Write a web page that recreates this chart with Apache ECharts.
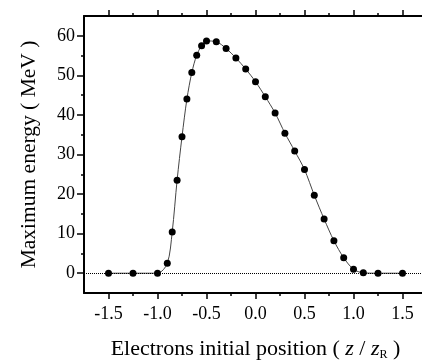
<!DOCTYPE html>
<html>
<head>
<meta charset="utf-8">
<script src="https://cdn.jsdelivr.net/npm/echarts@6/dist/echarts.min.js"></script>
<style>
  html, body { margin: 0; padding: 0; background: #fff; }
  #chart { width: 422px; height: 360px; }
</style>
</head>
<body>
<div id="chart"></div>
<script>
// electron initial position (z / zR) and max energy (MeV)
const positions = [-1.5, -1.25, -1.0, -0.9, -0.85, -0.8, -0.75, -0.7, -0.65, -0.6, -0.55, -0.5,
  -0.4, -0.3, -0.2, -0.1, 0.0, 0.1, 0.2, 0.3, 0.4, 0.5, 0.6, 0.7, 0.8, 0.9, 1.0, 1.1, 1.25, 1.5];
const energies = [0, 0, 0, 2.5, 10.4, 23.5, 34.5, 44.0, 50.7, 55.1, 57.5, 58.7,
  58.5, 56.8, 54.4, 51.6, 48.4, 44.6, 40.5, 35.4, 30.9, 26.2, 19.7, 13.7, 8.2, 3.9, 1.0, 0.1, 0, 0];

const xMajorTicks = [-1.5, -1.0, -0.5, 0.0, 0.5, 1.0, 1.5];
const xMinorTicks = [-1.25, -0.75, -0.25, 0.25, 0.75, 1.25];
const yMajorTicks = [0, 10, 20, 30, 40, 50, 60];
const yMinorTicks = [5, 15, 25, 35, 45, 55];

const font = 'Liberation Serif';
const chart = echarts.init(document.getElementById('chart'));

// one axis per tick size, stacked on top of each other
function xAxisOf(position, ticks, len, withLine, withLabel) {
  return {
    type: 'value', position: position, min: -1.75, max: 1.75,
    axisLine: { show: withLine, onZero: false, lineStyle: { color: '#000', width: 2 } },
    axisTick: { show: true, inside: false, length: len, customValues: ticks,
      lineStyle: { color: '#000', width: 1.5 } },
    axisLabel: withLabel ? {
      show: true, customValues: ticks, margin: 12,
      fontFamily: font, fontSize: 18, color: '#000',
      formatter: v => v.toFixed(1)
    } : { show: false },
    splitLine: { show: false }
  };
}
function yAxisOf(ticks, len, withLine, withLabel) {
  return {
    type: 'value', position: 'left', min: -5, max: 65,
    axisLine: { show: withLine, onZero: false, lineStyle: { color: '#000', width: 2 } },
    axisTick: { show: true, inside: false, length: len, customValues: ticks,
      lineStyle: { color: '#000', width: 1.5 } },
    axisLabel: withLabel ? {
      show: true, customValues: ticks, margin: 9,
      fontFamily: font, fontSize: 18, color: '#000'
    } : { show: false },
    splitLine: { show: false }
  };
}

const xMain = xAxisOf('bottom', xMajorTicks, 6, true, true);
xMain.name = 'Electrons initial position ( {i|z} / {i|z}{sub|R} )';
xMain.nameLocation = 'middle';
xMain.nameGap = 44;
xMain.nameTextStyle = {
  fontFamily: font, fontSize: 22, color: '#000',
  rich: {
    i: { fontFamily: font, fontSize: 22, fontStyle: 'italic', color: '#000' },
    sub: { fontFamily: font, fontSize: 12, color: '#000', padding: [12, 0, 0, 0] }
  }
};

const yMain = yAxisOf(yMajorTicks, 7, true, true);
yMain.name = 'Maximum energy ( MeV )';
yMain.nameLocation = 'middle';
yMain.nameGap = 44;
yMain.nameTextStyle = { fontFamily: font, fontSize: 21.5, color: '#000' };

chart.setOption({
  animation: false,
  grid: { left: 84, right: -5, top: 16, bottom: 67, containLabel: false, outerBoundsMode: 'none' },
  xAxis: [
    xMain,
    xAxisOf('bottom', xMinorTicks, 3, false, false),
    xAxisOf('top', xMajorTicks, 6, true, false),
    xAxisOf('top', xMinorTicks, 3, false, false)
  ],
  yAxis: [
    yMain,
    yAxisOf(yMinorTicks, 3, false, false)
  ],
  series: [{
    type: 'line',
    xAxisIndex: 0,
    yAxisIndex: 0,
    data: positions.map((x, i) => [x, energies[i]]),
    smooth: 0.3,
    symbol: 'circle',
    symbolSize: 7,
    itemStyle: { color: '#000' },
    lineStyle: { color: '#444', width: 1 },
    z: 3,
    markLine: {
      silent: true,
      symbol: 'none',
      label: { show: false },
      lineStyle: { color: '#000', type: 'dotted', width: 1 },
      data: [{ yAxis: 0 }]
    }
  }]
});
</script>
</body>
</html>
